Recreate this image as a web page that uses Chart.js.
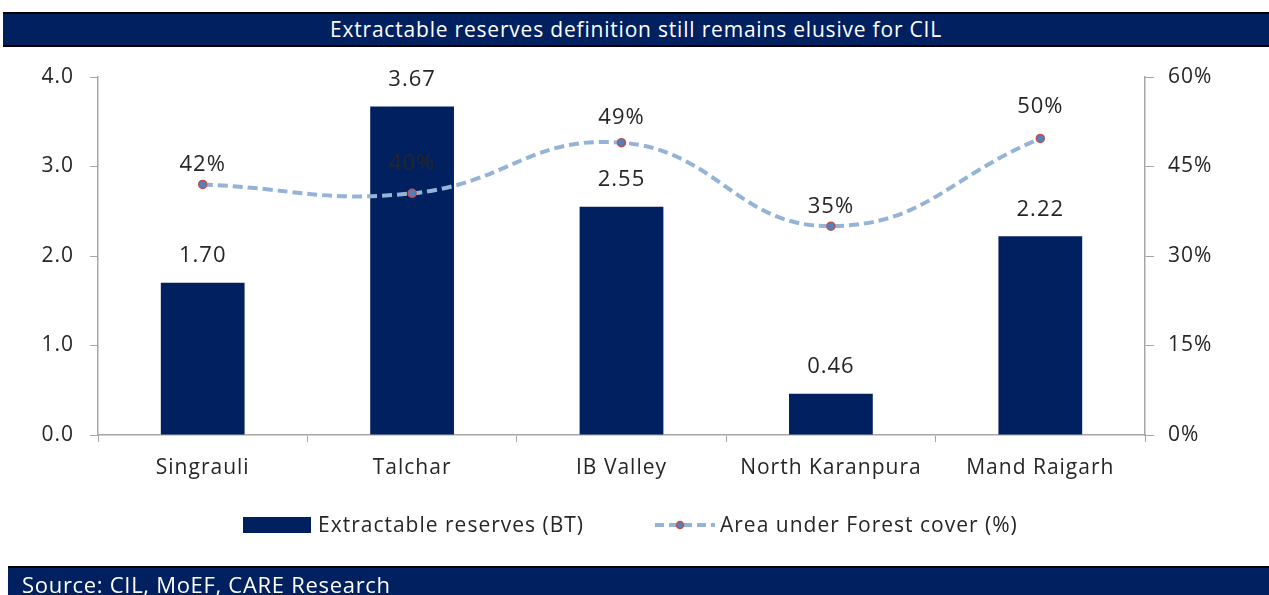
<!DOCTYPE html>
<html><head><meta charset="utf-8">
<script src="https://cdn.jsdelivr.net/npm/chart.js@4"></script>
<style>
html,body{margin:0;padding:0;background:#fff;width:1269px;height:595px;overflow:hidden;font-family:"Open Sans",sans-serif;}
#wrap{position:absolute;left:0;top:0;width:1269px;height:595px;}
.bar{position:absolute;background:#002060;color:#fff;box-sizing:border-box;}
#title{left:3px;top:12px;width:1266px;height:35px;border-top:2px solid #000;border-bottom:2px solid #000;text-align:center;font-size:21px;letter-spacing:0.8px;line-height:30px;}
#source{left:8px;top:566px;width:1261px;height:29px;border-top:2px solid #000;font-size:22px;letter-spacing:0.7px;line-height:33px;padding-left:14px;}
</style></head>
<body>
<div id="wrap"><canvas id="c" width="1269" height="595"></canvas></div>
<div class="bar" id="title">Extractable reserves definition still remains elusive for CIL</div>
<div class="bar" id="source">Source: CIL, MoEF, CARE Research</div>
<script>
const categories = ["Singrauli","Talchar","IB Valley","North Karanpura","Mand Raigarh"];
const reserves = [1.70, 3.67, 2.55, 0.46, 2.22];
const forestCover = [0.42, 0.405, 0.49, 0.35, 0.497];
const forestLabels = ["42%","40%","49%","35%","50%"];
const leftTicks = [0,1,2,3,4];
const rightTicks = [0,0.15,0.30,0.45,0.60];
const seriesNames = ["Extractable reserves (BT)","Area under Forest cover (%)"];

const NAVY = "#002060", LBLUE = "#95B3D7", RED = "#C0504D", AXIS = "#A6A6A6", TXT = "#262626";
const FONT = '"Open Sans", sans-serif';
const SPACING = '1px';

const spacingPlugin = {
  id: 'spacing',
  beforeDraw(chart) { chart.ctx.letterSpacing = SPACING; }
};

const labelPlugin = {
  id: 'labels',
  afterDatasetsDraw(chart, args, opts) {
    const ctx = chart.ctx;
    ctx.save();
    ctx.letterSpacing = SPACING;
    ctx.fillStyle = TXT;
    ctx.font = '22px ' + FONT;
    ctx.textAlign = 'center';
    ctx.textBaseline = 'middle';
    chart.getDatasetMeta(0).data.forEach((el, i) => {
      ctx.fillText(reserves[i].toFixed(2), el.x, el.y - opts.barGap);
    });
    chart.getDatasetMeta(1).data.forEach((el, i) => {
      ctx.fillText(forestLabels[i], el.x, el.y - opts.lineGap[i]);
    });
    // legend
    const ly = 525;
    ctx.font = '21px ' + FONT;
    ctx.fillStyle = NAVY;
    ctx.fillRect(243, ly - 8, 68, 16);
    ctx.fillStyle = TXT;
    ctx.textAlign = 'left';
    ctx.fillText(seriesNames[0], 318, ly + 1);
    ctx.strokeStyle = LBLUE;
    ctx.lineWidth = 4;
    ctx.setLineDash([9, 5]);
    ctx.beginPath(); ctx.moveTo(655, ly); ctx.lineTo(715, ly); ctx.stroke();
    ctx.setLineDash([]);
    ctx.beginPath(); ctx.arc(680, ly, 3.5, 0, Math.PI * 2);
    ctx.fillStyle = '#4F81BD'; ctx.fill();
    ctx.strokeStyle = RED; ctx.lineWidth = 1.5; ctx.stroke();
    ctx.fillStyle = TXT;
    ctx.fillText(seriesNames[1], 720, ly + 1);
    ctx.restore();
  }
};

new Chart(document.getElementById('c'), {
  type: 'bar',
  data: {
    labels: categories,
    datasets: [
      { type: 'bar', label: seriesNames[0], data: reserves, backgroundColor: NAVY, yAxisID: 'y',
        barPercentage: 0.4, categoryPercentage: 1.0, order: 2 },
      { type: 'line', label: seriesNames[1], data: forestCover, yAxisID: 'y1',
        borderColor: LBLUE, borderWidth: 4, borderDash: [10, 5], tension: 0.45,
        pointRadius: 4, pointBackgroundColor: '#4F81BD', pointBorderColor: RED, pointBorderWidth: 1.5,
        fill: false, order: 1 }
    ]
  },
  options: {
    responsive: false, animation: false,
    devicePixelRatio: 1,
    layout: { padding: { top: 77, bottom: 100, left: 0, right: 0 } },
    plugins: {
      legend: { display: false }, tooltip: { enabled: false }, title: { display: false },
      labels: { barGap: 27, lineGap: [20, 30, 25, 19, 32] }
    },
    scales: {
      x: {
        grid: { display: true, drawOnChartArea: false, drawTicks: true, tickLength: 7, color: AXIS, offset: true },
        border: { display: true, color: AXIS, width: 1.5 },
        ticks: { color: TXT, font: { family: FONT, size: 21 }, padding: 13, maxRotation: 0 },
        afterFit: s => { s.height = 60; }
      },
      y: {
        position: 'left', min: 0, max: 4,
        afterBuildTicks: s => { s.ticks = leftTicks.map(v => ({ value: v })); },
        grid: { drawOnChartArea: false, drawTicks: true, tickLength: 8, color: AXIS },
        border: { display: true, color: AXIS, width: 1.5 },
        ticks: { color: TXT, font: { family: FONT, size: 21 }, padding: 16, callback: v => v.toFixed(1) },
        afterFit: s => { s.width = 98; }
      },
      y1: {
        position: 'right', min: 0, max: 0.6,
        afterBuildTicks: s => { s.ticks = rightTicks.map(v => ({ value: v })); },
        grid: { drawOnChartArea: false, drawTicks: true, tickLength: 9, color: AXIS },
        border: { display: true, color: AXIS, width: 1.5 },
        ticks: { color: TXT, font: { family: FONT, size: 21 }, padding: 14, callback: v => Math.round(v * 100) + '%' },
        afterFit: s => { s.width = 124; }
      }
    }
  },
  plugins: [spacingPlugin, labelPlugin]
});
</script>
</body></html>
